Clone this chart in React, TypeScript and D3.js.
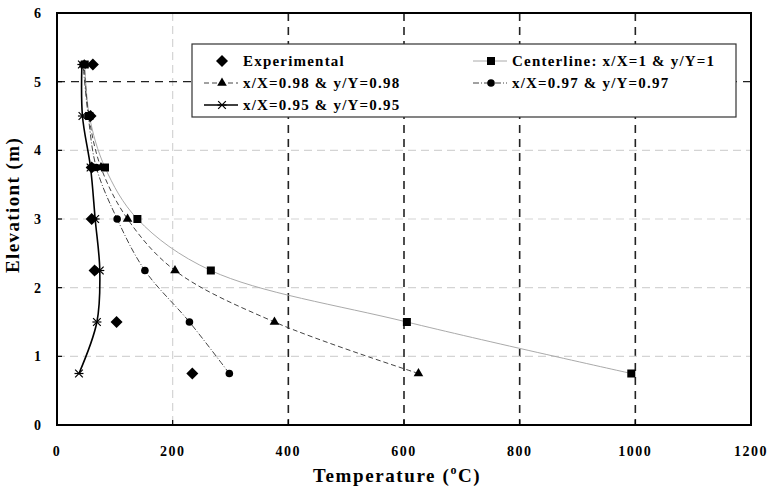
import React, { useRef, useEffect } from "react";
import * as d3 from "d3";

// elevations shared by every profile (m)
const elevations = [0.75, 1.5, 2.25, 3.0, 3.75, 4.5, 5.25];

// temperatures (°C) at each elevation
const experimental = [234, 103, 65, 60, 60, 58, 62];
const centerline = [993, 605, 266, 139, 83, 56, 48];
const profile098 = [625, 376, 204, 122, 76, 55, 47];
const profile097 = [298, 229, 152, 104, 68, 54, 45];
const profile095 = [38, 69, 74, 66, 58, 44, 43];

const xTicks = [0, 200, 400, 600, 800, 1000, 1200];
const yTicks = [0, 1, 2, 3, 4, 5, 6];

const font = "Liberation Serif";

function App() {
    const svgRef = useRef<SVGSVGElement>(null);

    useEffect(() => {
        const width = 768, height = 491;
        const m = { left: 57, right: 751, top: 13, bottom: 425 };

        const svg = d3.select(svgRef.current);
        svg.selectAll("*").remove();
        svg.attr("width", width).attr("height", height)
            .attr("font-family", font);

        const x = d3.scaleLinear().domain([0, 1200]).range([m.left, m.right]);
        const y = d3.scaleLinear().domain([0, 6]).range([m.bottom, m.top]);

        // grid: some lines light gray dashed, some black dashed
        const g = svg.append("g");
        xTicks.slice(1, -1).forEach(t => {
            const dark = t >= 400;
            g.append("line")
                .attr("x1", x(t)).attr("x2", x(t))
                .attr("y1", m.top).attr("y2", m.bottom)
                .attr("stroke", dark ? "#222" : "#d4d4d4")
                .attr("stroke-width", dark ? 1.6 : 1.2)
                .attr("stroke-dasharray", dark ? "8,6" : "8,5");
        });
        yTicks.slice(1, -1).forEach(t => {
            const dark = t === 5;
            g.append("line")
                .attr("x1", m.left).attr("x2", m.right)
                .attr("y1", y(t)).attr("y2", y(t))
                .attr("stroke", dark ? "#222" : "#d4d4d4")
                .attr("stroke-width", dark ? 1.4 : 1.2)
                .attr("stroke-dasharray", dark ? "8,6" : "8,5");
        });

        // inward ticks
        xTicks.forEach(t => {
            g.append("line").attr("x1", x(t)).attr("x2", x(t))
                .attr("y1", m.bottom).attr("y2", m.bottom - 5)
                .attr("stroke", "#000").attr("stroke-width", 1.2);
        });
        yTicks.forEach(t => {
            g.append("line").attr("x1", m.left).attr("x2", m.left + 5)
                .attr("y1", y(t)).attr("y2", y(t))
                .attr("stroke", "#000").attr("stroke-width", 1.2);
        });

        // tick labels
        svg.append("g").selectAll("text").data(xTicks).join("text")
            .attr("x", d => x(d)).attr("y", 456)
            .attr("text-anchor", "middle")
            .attr("font-family", font)
            .attr("font-size", 14).attr("font-weight", "bold")
            .attr("letter-spacing", 1.5)
            .text(d => d);
        svg.append("g").selectAll("text").data(yTicks).join("text")
            .attr("x", 41).attr("y", d => y(d) + 5)
            .attr("text-anchor", "end")
            .attr("font-family", font)
            .attr("font-size", 14).attr("font-weight", "bold")
            .text(d => d);

        // axis titles
        const xt = svg.append("text")
            .attr("x", 313).attr("y", 482)
            .attr("font-family", font)
            .attr("font-size", 19).attr("font-weight", "bold")
            .attr("letter-spacing", 1.6);
        xt.append("tspan").text("Temperature (");
        xt.append("tspan").attr("font-size", 12).attr("dy", -8).text("o");
        xt.append("tspan").attr("dy", 8).text("C)");

        svg.append("text")
            .attr("transform", `translate(19,205) rotate(-90)`)
            .attr("text-anchor", "middle")
            .attr("font-family", font)
            .attr("font-size", 19).attr("font-weight", "bold")
            .attr("letter-spacing", 1.4)
            .text("Elevationt (m)");

        const line = d3.line<number[]>()
            .x(d => x(d[0]))
            .y(d => y(d[1]))
            .curve(d3.curveCatmullRom.alpha(0.5));

        const series = [
            { name: "Centerline: x/X=1 & y/Y=1", values: centerline, stroke: "#aaa", width: 1, dash: null, marker: "square" },
            { name: "x/X=0.98 & y/Y=0.98", values: profile098, stroke: "#444", width: 1, dash: "5,3", marker: "triangle" },
            { name: "x/X=0.97 & y/Y=0.97", values: profile097, stroke: "#444", width: 1, dash: "6,2,1,2", marker: "circle" },
            { name: "x/X=0.95 & y/Y=0.95", values: profile095, stroke: "#000", width: 1.6, dash: null, marker: "star" },
        ];

        const symbolFor = (kind: string) => {
            if (kind === "square") return d3.symbol(d3.symbolSquare, 64)();
            if (kind === "triangle") return d3.symbol(d3.symbolTriangle, 40)();
            if (kind === "circle") return d3.symbol(d3.symbolCircle, 45)();
            if (kind === "diamond") return "M0,-6L6,0L0,6L-6,0Z";
            return d3.symbol(d3.symbolTimes, 40)();
        };

        const drawMarker = (sel: any, kind: string, cx: number, cy: number) => {
            if (kind === "star") {
                const s = sel.append("g").attr("transform", `translate(${cx},${cy})`);
                s.append("path").attr("d", symbolFor("star"))
                    .attr("fill", "none").attr("stroke", "#000").attr("stroke-width", 1.2);
                s.append("line").attr("x1", -4.5).attr("x2", 4.5).attr("y1", 0).attr("y2", 0)
                    .attr("stroke", "#000").attr("stroke-width", 1.2);
                return;
            }
            sel.append("path").attr("d", symbolFor(kind))
                .attr("transform", `translate(${cx},${cy})`)
                .attr("fill", "#000");
        };

        series.forEach(s => {
            const pts = s.values.map((v, i) => [v, elevations[i]]);
            svg.append("path")
                .attr("d", line(pts))
                .attr("fill", "none")
                .attr("stroke", s.stroke)
                .attr("stroke-width", s.width)
                .attr("stroke-dasharray", s.dash);
            pts.forEach(p => drawMarker(svg, s.marker, x(p[0]), y(p[1])));
        });

        experimental.forEach((v, i) => drawMarker(svg, "diamond", x(v), y(elevations[i])));

        // frame
        svg.append("rect")
            .attr("x", m.left).attr("y", m.top)
            .attr("width", m.right - m.left).attr("height", m.bottom - m.top)
            .attr("fill", "none").attr("stroke", "#000").attr("stroke-width", 2);

        // legend
        const lg = svg.append("g");
        lg.append("rect").attr("x", 192).attr("y", 44).attr("width", 544).attr("height", 73)
            .attr("fill", "#fff").attr("stroke", "#333").attr("stroke-width", 1.2);

        const entries = [
            { name: "Experimental", col: 0, row: 0, marker: "diamond", stroke: null, dash: null, width: 0 },
            { ...series[0], col: 1, row: 0 },
            { ...series[1], col: 0, row: 1 },
            { ...series[2], col: 1, row: 1 },
            { ...series[3], col: 0, row: 2 },
        ];
        const colX = [222, 491];
        entries.forEach(e => {
            const cx = colX[e.col];
            const cy = 61 + e.row * 22;
            if (e.stroke) {
                lg.append("line").attr("x1", cx - 18).attr("x2", cx + 16)
                    .attr("y1", cy).attr("y2", cy)
                    .attr("stroke", e.stroke).attr("stroke-width", e.width)
                    .attr("stroke-dasharray", e.dash);
            }
            drawMarker(lg, e.marker, cx, cy);
            lg.append("text").attr("x", cx + 21).attr("y", cy + 5)
                .attr("font-family", font)
                .attr("font-size", 15).attr("font-weight", "bold")
                .attr("letter-spacing", 1.2)
                .text(e.name);
        });
    }, []);

    return (<svg ref={svgRef} style={{ position: "absolute", left: 0, top: 0 }}></svg>);
}

export default App;
